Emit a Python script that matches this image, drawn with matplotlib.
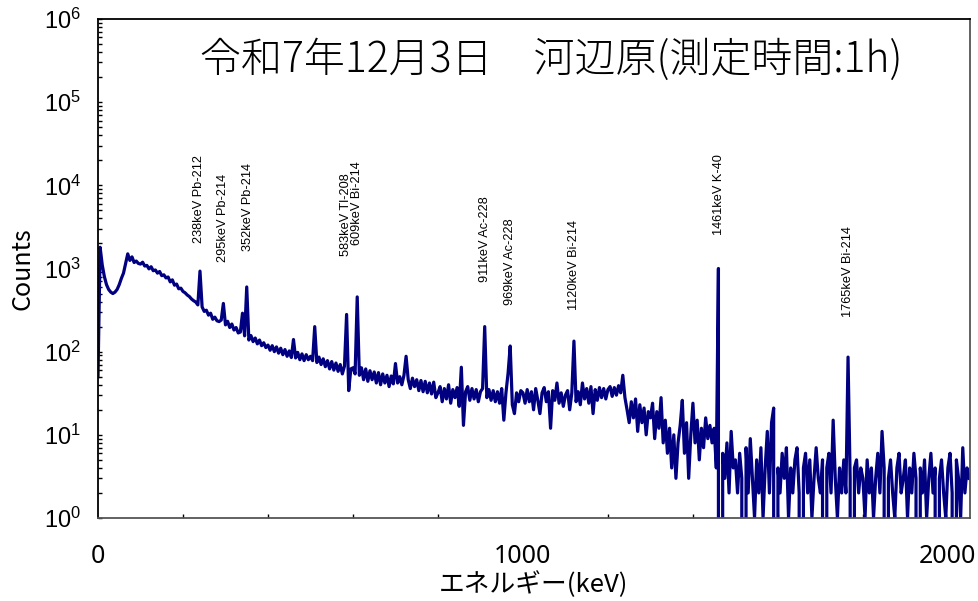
import numpy as np
import matplotlib.pyplot as plt
from matplotlib.ticker import MultipleLocator, FixedLocator, LogLocator

plt.rcParams['mathtext.fontset'] = 'custom'
plt.rcParams['mathtext.rm'] = 'Liberation Sans'
plt.rcParams['mathtext.it'] = 'Liberation Sans:italic'

# energy grid (keV), 5 keV per point
energy = np.arange(0, 2051, 5)

# counts, one row = 100 keV
counts = [
    50, 1800, 1100, 800, 640, 560, 520, 500, 520, 560, 640, 760, 880, 1150, 1500, 1250, 1380, 1180, 1230, 1150,  # 0
    1130, 1190, 1070, 1090, 990, 1050, 940, 960, 880, 920, 820, 840, 770, 790, 690, 730, 630, 650, 570, 580,  # 100
    530, 510, 480, 460, 430, 410, 395, 365, 930, 345, 305, 315, 275, 290, 245, 260, 235, 230, 240, 380,  # 200
    210, 232, 195, 215, 182, 195, 168, 172, 290, 155, 600, 138, 156, 132, 146, 124, 138, 118, 128, 112,  # 300
    120, 104, 118, 100, 114, 96, 110, 92, 106, 88, 102, 85, 140, 84, 98, 80, 94, 78, 92, 80,  # 400
    88, 78, 200, 74, 86, 70, 82, 66, 78, 62, 76, 60, 73, 58, 70, 54, 67, 280, 34, 62,  # 500
    64, 54, 455, 52, 64, 46, 62, 44, 59, 46, 57, 42, 56, 40, 54, 42, 52, 38, 51, 41,  # 600
    72, 42, 50, 40, 52, 88, 46, 36, 48, 38, 46, 34, 45, 33, 44, 32, 42, 31, 43, 28,  # 700
    32, 38, 25, 36, 27, 40, 24, 35, 28, 37, 22, 65, 13, 33, 38, 26, 36, 27, 35, 25,  # 800
    33, 36, 200, 28, 35, 26, 34, 25, 33, 24, 36, 15, 32, 55, 117, 23, 18, 32, 25, 34,  # 900
    32, 24, 35, 25, 33, 20, 36, 26, 18, 32, 37, 25, 33, 12, 34, 26, 42, 24, 32, 22,  # 1000
    30, 34, 20, 32, 134, 25, 33, 23, 42, 27, 36, 24, 38, 18, 35, 26, 37, 28, 36, 27,  # 1100
    35, 38, 29, 37, 30, 39, 32, 52, 28, 20, 14, 25, 16, 27, 11, 23, 14, 21, 10, 19,  # 1200
    16, 24, 9, 19, 12, 28, 8, 15, 6, 12, 4, 10, 3, 8, 13, 26, 6, 14, 3, 10,  # 1300
    24, 8, 15, 5, 12, 7, 16, 9, 13, 8, 12, 4, 1000, 0, 6, 3, 8, 2, 11, 4,  # 1400
    5, 2, 6, 3, 0, 7, 2, 9, 3, 1, 5, 2, 7, 1, 4, 11, 2, 14, 21, 0,  # 1500
    4, 2, 6, 3, 7, 1, 4, 2, 5, 7, 2, 0, 4, 6, 2, 5, 1, 3, 7, 3,  # 1600
    2, 5, 0, 4, 6, 2, 15, 3, 1, 4, 2, 5, 2, 86, 3, 0, 4, 5, 2, 4,  # 1700
    3, 1, 5, 2, 4, 1, 3, 6, 2, 11, 4, 0, 3, 5, 2, 1, 4, 6, 2, 3,  # 1800
    5, 1, 4, 2, 6, 3, 0, 4, 2, 5, 1, 3, 6, 2, 4, 0, 3, 5, 2, 1,  # 1900
    4, 6, 2, 0, 5, 3, 1, 7, 2, 4, 3,  # 2000
]

peak_energy = [238, 295, 352, 583, 609, 911, 969, 1120, 1461, 1765]
peak_labels = ['238keV Pb-212', '295keV Pb-214', '352keV Pb-214', '583keV Tl-208',
               '609keV Bi-214', '911keV Ac-228', '969keV Ac-228', '1120keV Bi-214',
               '1461keV K-40', '1765keV Bi-214']
label_base = [2020, 1190, 1620, 1410, 1910, 690, 365, 318, 2520, 262]

title = '令和7年12月3日　河辺原(測定時間:1h)'

fig = plt.figure(figsize=(9.79, 6.01), dpi=100)
ax = fig.add_axes([0.1001, 0.1381, 0.8907, 0.8303])

ax.plot(energy, counts, color='#000080', lw=2.3)
ax.set_yscale('log')
ax.set_ylim(1, 1e6)
ax.set_xlim(0, 2052)

for e, t, yb in zip(peak_energy, peak_labels, label_base):
    ax.text(e, yb, t, rotation=90, ha='center', va='bottom', fontsize=9.2,
            family='Liberation Sans')

ax.text(0.52, 0.918, title, transform=ax.transAxes, ha='center', va='center',
        fontsize=29.5, fontweight='light', family=['Noto Sans CJK JP', 'DejaVu Sans'])

# ticks
ax.xaxis.set_major_locator(FixedLocator([0, 1000, 2000]))
ax.xaxis.set_minor_locator(MultipleLocator(200))
ax.yaxis.set_major_locator(FixedLocator([1, 10, 100, 1e3, 1e4, 1e5, 1e6]))
ax.yaxis.set_minor_locator(LogLocator(base=10, subs=np.arange(2, 10), numticks=10))
ax.tick_params(axis='both', which='both', direction='in', length=3, width=1)
ax.tick_params(axis='x', which='major', length=0, pad=19)
ax.tick_params(axis='y', which='major', pad=12)
for lab in ax.get_xticklabels():
    lab.set_fontsize(18)
    lab.set_family('Noto Sans')
for lab in ax.get_yticklabels():
    lab.set_fontsize(17)
    lab.set_family('Liberation Sans')

ax.set_xlabel('エネルギー(keV)', fontsize=18.5, family='Noto Sans CJK JP')
ax.xaxis.label.set_va('center')
ax.xaxis.set_label_coords(0.5, -0.134)
ax.set_ylabel('Counts', fontsize=18, family='Noto Sans CJK JP', labelpad=6)

ax.spines['left'].set_color('black')
ax.spines['top'].set_color('black')
ax.spines['right'].set_color('#555555')
ax.spines['bottom'].set_color('#555555')
for s in ax.spines.values():
    s.set_linewidth(1.3)

fig.savefig('out.png', dpi=100)
